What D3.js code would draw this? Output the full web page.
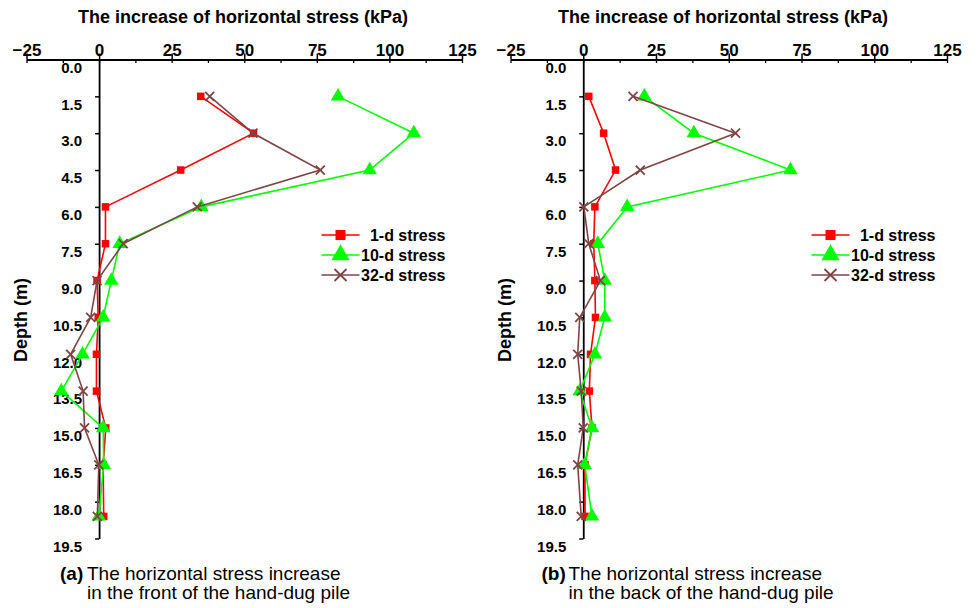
<!DOCTYPE html>
<html><head><meta charset="utf-8">
<script src="https://cdnjs.cloudflare.com/ajax/libs/d3/7.8.5/d3.min.js"></script>
<style>
body{margin:0;background:#fff;}
svg{display:block;font-family:"Liberation Sans",Arial,sans-serif;}
</style></head>
<body>
<svg id="c" width="980" height="608"></svg>
<script>
// ---- data ----
const depths = [1.5, 3.0, 4.5, 6.0, 7.5, 9.0, 10.5, 12.0, 13.5, 15.0, 16.5, 18.6];
const frontD1  = [35.0, 53.2, 28.1, 2.2, 2.2, -0.7, -0.3, -0.9, -0.9, 2.3, 1.4, 1.6];
const frontD10 = [82.3, 108.4, 93.2, 35.2, 7.1, 4.2, 1.4, -5.7, -13.0, 1.4, 1.6, -0.1];
const frontD32 = [38.1, 53.0, 76.2, 33.8, 8.3, -0.7, -2.9, -9.8, -5.5, -5.0, -0.1, -0.6];
const backD1  = [1.9, 7.0, 11.1, 4.0, 3.6, 4.0, 4.2, 2.5, 2.1, 3.0, 0.6, 0.6];
const backD10 = [21.0, 38.0, 71.2, 15.1, 5.0, 7.4, 7.4, 4.0, -1.2, 3.0, 0.5, 3.0];
const backD32 = [17.1, 52.3, 19.6, 0.2, 1.9, 5.9, -1.2, -1.9, -0.7, 0.0, -1.9, -0.7];
const seriesNames = ["1-d stress", "10-d stress", "32-d stress"];
const xTicks = [-25, 0, 25, 50, 75, 100, 125];
const depthTicks = [0, 1.5, 3.0, 4.5, 6.0, 7.5, 9.0, 10.5, 12.0, 13.5, 15.0, 16.5, 18.0, 19.5];
const xTitle = "The increase of horizontal stress (kPa)";
const yTitle = "Depth (m)";
const captions = [
  ["(a)", "The horizontal stress increase", "in the front of the hand-dug pile"],
  ["(b)", "The horizontal stress increase", "in the back of the hand-dug pile"]
];

// ---- styles ----
const colors = ["#ff0000", "#00ff00", "#7f4545"];
const svg = d3.select("#c");

function marker(sel, i, size) {
  if (i === 0) {
    sel.append("rect").attr("x", -size/2).attr("y", -size/2).attr("width", size).attr("height", size)
      .attr("fill", colors[0]);
  } else if (i === 1) {
    sel.append("path").attr("d", d3.symbol(d3.symbolTriangle, size*size*0.75)()).attr("fill", colors[1]);
  } else {
    const h = size/2;
    sel.append("path").attr("d", `M${-h},${-h}L${h},${h}M${-h},${h}L${h},${-h}`)
      .attr("stroke", colors[2]).attr("stroke-width", 1.8).attr("fill", "none");
  }
}

function panel(cfg) {
  const g = svg.append("g");
  const x = d3.scaleLinear().domain([-25, 125]).range(cfg.xr);
  const y = d3.scaleLinear().domain([0, 19.5]).range([59.5, 538.5]);
  const x0 = x(0);

  // top axis (major ticks + labels)
  const ax = g.append("g").attr("transform", "translate(0,59.5)")
    .call(d3.axisTop(x).tickValues(xTicks).tickSizeInner(6).tickSizeOuter(0).tickPadding(-2));
  ax.select(".domain").attr("stroke", "#000").attr("stroke-width", 1.8);
  ax.selectAll(".tick line").attr("stroke", "#000").attr("stroke-width", 1.5);
  ax.selectAll("text").attr("font-size", 17).attr("font-weight", "bold").attr("fill", "#000");
  // minor ticks below
  const axm = g.append("g").attr("transform", "translate(0,59.5)")
    .call(d3.axisBottom(x).tickValues(d3.range(-25, 125.1, 12.5)).tickSize(3.5).tickFormat(""));
  axm.select(".domain").remove();
  axm.selectAll(".tick line").attr("stroke", "#000").attr("stroke-width", 1.3);

  // left depth axis at x=0
  const ay = g.append("g").attr("transform", `translate(${x0},0)`)
    .call(d3.axisLeft(y).tickValues(depthTicks).tickSizeInner(4).tickSizeOuter(0).tickPadding(13)
      .tickFormat(d3.format(".1f")));
  ay.select(".domain").attr("stroke", "#000").attr("stroke-width", 1.8);
  ay.selectAll(".tick line").attr("stroke", "#000").attr("stroke-width", 1.5);
  ay.selectAll("text").attr("font-size", 15).attr("font-weight", "bold").attr("fill", "#000")
    .attr("dy", "0.85em");

  // titles
  g.append("text").attr("x", cfg.titleX).attr("y", 23).attr("text-anchor", "middle")
    .attr("font-size", 18).attr("font-weight", "bold").text(xTitle);
  g.append("text").attr("transform", `translate(${cfg.yTitleX},320) rotate(-90)`)
    .attr("text-anchor", "middle").attr("font-size", 18).attr("font-weight", "bold").text(yTitle);

  // series
  const line = d3.line().x(d => x(d[0])).y(d => y(d[1]));
  cfg.series.forEach((vals, i) => {
    const pts = vals.map((v, k) => [v, depths[k]]);
    g.append("path").attr("d", line(pts)).attr("fill", "none")
      .attr("stroke", colors[i]).attr("stroke-width", 1.6);
    pts.forEach(p => {
      const m = g.append("g").attr("transform", `translate(${x(p[0])},${y(p[1])})`);
      marker(m, i, i === 0 ? 7.5 : (i === 1 ? 11 : 9));
    });
  });

  // legend
  const lg = g.append("g").attr("transform", `translate(${cfg.legX},0)`);
  seriesNames.forEach((n, i) => {
    const ly = 235 + i * 20;
    lg.append("line").attr("x1", 0).attr("x2", 38).attr("y1", ly).attr("y2", ly)
      .attr("stroke", colors[i]).attr("stroke-width", 1.6);
    const m = lg.append("g").attr("transform", `translate(19,${ly})`);
    marker(m, i, i === 0 ? 10 : (i === 1 ? 14 : 12));
    lg.append("text").attr("x", 124).attr("y", ly + 6).attr("text-anchor", "end")
      .attr("font-size", 16).attr("font-weight", "bold").text(n);
  });

  // caption
  const cap = captions[cfg.idx];
  g.append("text").attr("x", cfg.capX).attr("y", 580).attr("font-size", 19).attr("font-weight", "bold").text(cap[0]);
  g.append("text").attr("x", cfg.capX + 27).attr("y", 580).attr("font-size", 19).text(cap[1]);
  g.append("text").attr("x", cfg.capX + 27).attr("y", 599).attr("font-size", 19).text(cap[2]);
}

panel({idx: 0, xr: [26.5, 462], titleX: 243, yTitleX: 27, legX: 321.5, capX: 60,
  series: [frontD1, frontD10, frontD32]});
panel({idx: 1, xr: [510.5, 947], titleX: 723, yTitleX: 511, legX: 811.5, capX: 541.5,
  series: [backD1, backD10, backD32]});
</script>
</body></html>
